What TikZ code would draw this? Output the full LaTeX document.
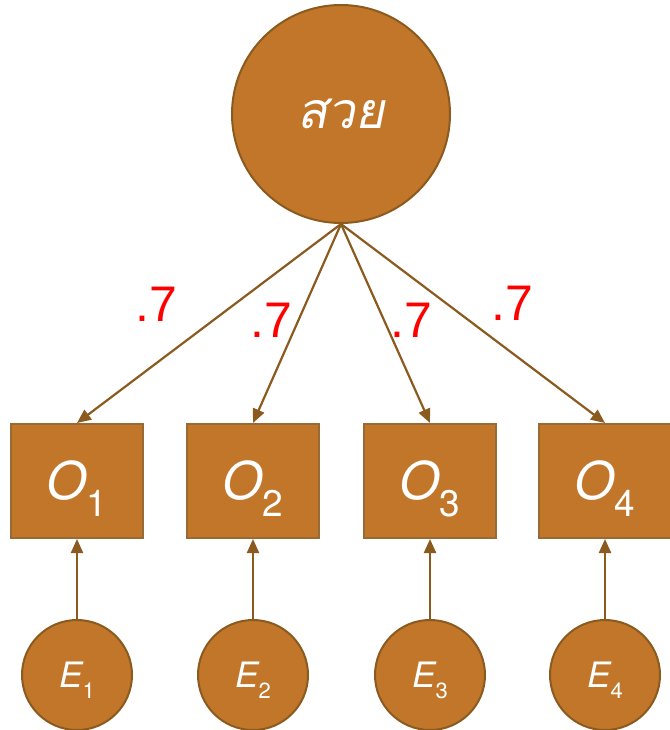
\documentclass[tikz,border=0pt]{standalone}
\usepackage{fontspec}
\setmainfont{TeX Gyre Heros}
\newfontfamily\thaifont[Script=Thai,FakeSlant=0.2]{Loma}
\newfontfamily\loadfont{Liberation Sans}
\usetikzlibrary{arrows.meta}

\definecolor{semfill}{HTML}{C1762A}
\definecolor{semline}{HTML}{8B5A1E}
\definecolor{boxline}{HTML}{9A6A35}

\newcommand{\obsvar}[1]{{\fontsize{52}{52}\selectfont\itshape O}\raisebox{-17pt}[0pt][0pt]{\fontsize{37}{37}\selectfont #1}}
\newcommand{\errvar}[1]{{\fontsize{35}{35}\selectfont\itshape E}\raisebox{-11pt}[0pt][0pt]{\fontsize{22}{22}\selectfont #1}}

\tikzset{
    latent/.style={circle, draw=semline, line width=2pt, fill=semfill, text=white, inner sep=0pt},
    observed/.style={rectangle, draw=boxline, line width=2pt, fill=semfill, text=white,
        minimum width=132pt, minimum height=114pt, inner sep=0pt},
    arrowline/.style={draw=semline, line width=2.2pt, -{Triangle[length=14pt,width=12pt]}},
    loading/.style={text=red, inner sep=0pt, font=\loadfont\fontsize{50}{50}\selectfont}
}

\begin{document}
\begin{tikzpicture}[x=1pt, y=1pt]
                \useasboundingbox (0, 0) rectangle (669, -730);
                \node[latent, minimum size=218pt] (big) at (341, -114) {\thaifont\fontsize{50}{50}\selectfont สวย};
                \foreach \i/\x/\lx/\ly in {1/77/156/-304, 2/253/271/-320, 3/430/411/-320, 4/605/512/-303} {
                    \node[observed] (o\i) at (\x, -481) {\obsvar{\i}};
                    \node[latent, minimum size=110pt] (e\i) at (\x, -675) {\errvar{\i}};
                    \draw[arrowline] (e\i) -- (o\i);
                    \draw[arrowline] (big.south) -- (o\i.north);
                    \node[loading] (l\i) at (\lx, \ly) {.7};
                }
            \end{tikzpicture}
\end{document}
